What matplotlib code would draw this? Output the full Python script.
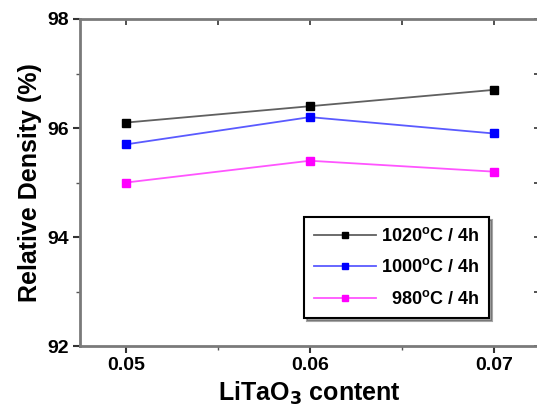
import matplotlib
matplotlib.use("Agg")
import matplotlib.pyplot as plt

# LiTaO3 content (x) and relative density (%) for each sintering condition
litao3_content = [0.05, 0.06, 0.07]
density_1020 = [96.1, 96.4, 96.7]
density_1000 = [95.7, 96.2, 95.9]
density_980 = [95.0, 95.4, 95.2]
series_labels = ["1020$^\\mathregular{o}$C / 4h",
                 "1000$^\\mathregular{o}$C / 4h",
                 "  980$^\\mathregular{o}$C / 4h"]
x_ticks = [0.05, 0.06, 0.07]
y_ticks = [92, 94, 96, 98]

plt.rcParams["font.family"] = ["Liberation Sans", "DejaVu Sans"]
plt.rcParams["font.weight"] = "bold"
plt.rcParams["mathtext.default"] = "bf"

fig = plt.figure(figsize=(5.37, 4.13), dpi=100)
ax = fig.add_axes([0.149, 0.162, 0.856, 0.792])

styles = [
    ("#606060", "black"),
    ("#5a5aff", "blue"),
    ("#ff55ff", "magenta"),
]
for values, label, (line_c, mark_c) in zip(
        [density_1020, density_1000, density_980], series_labels, styles):
    ax.plot(litao3_content, values, color=line_c, lw=1.3, marker="s",
            markersize=6, markerfacecolor=mark_c, markeredgecolor=mark_c,
            label=label)

ax.set_xlim(0.0475, 0.0725)
ax.set_ylim(92, 98)
ax.set_xticks(x_ticks)
ax.set_xticklabels(["0.05", "0.06", "0.07"])
ax.set_yticks(y_ticks)
ax.set_xticks([0.055, 0.065], minor=True)
ax.set_yticks([93, 95, 97], minor=True)

for s in ax.spines.values():
    s.set_color("#7a7a7a")
    s.set_linewidth(2)

ax.tick_params(which="major", direction="out", length=5, width=1.5,
               color="#333333", labelsize=14, pad=3)
ax.tick_params(which="minor", direction="out", length=3, width=1,
               color="#555555")

# mirror ticks on top and right, pointing inwards
top = ax.secondary_xaxis("top")
top.set_xticks(x_ticks)
top.set_xticks([0.055, 0.065], minor=True)
top.tick_params(which="both", direction="in", labeltop=False, length=4,
                width=1.2, color="#333333")
right = ax.secondary_yaxis("right")
right.set_yticks(y_ticks)
right.set_yticks([93, 95, 97], minor=True)
right.tick_params(which="both", direction="in", labelright=False, length=4,
                  width=1.2, color="#333333")
for sec in (top, right):
    for s in sec.spines.values():
        s.set_visible(False)

ax.set_ylabel("Relative Density (%)", fontsize=18, fontweight="bold",
              labelpad=4)
ax.set_xlabel("LiTaO$_3$ content", fontsize=18, fontweight="bold",
              labelpad=4)

leg = ax.legend(loc="lower left", bbox_to_anchor=(0.488, 0.086),
                frameon=True, fancybox=False, shadow=True, fontsize=13,
                handlelength=3.4, handletextpad=0.3, borderpad=0.55,
                labelspacing=0.75, borderaxespad=0, markerscale=0.8)
leg.get_frame().set_edgecolor("black")
leg.get_frame().set_linewidth(1.5)

fig.savefig("out.png", dpi=100)
